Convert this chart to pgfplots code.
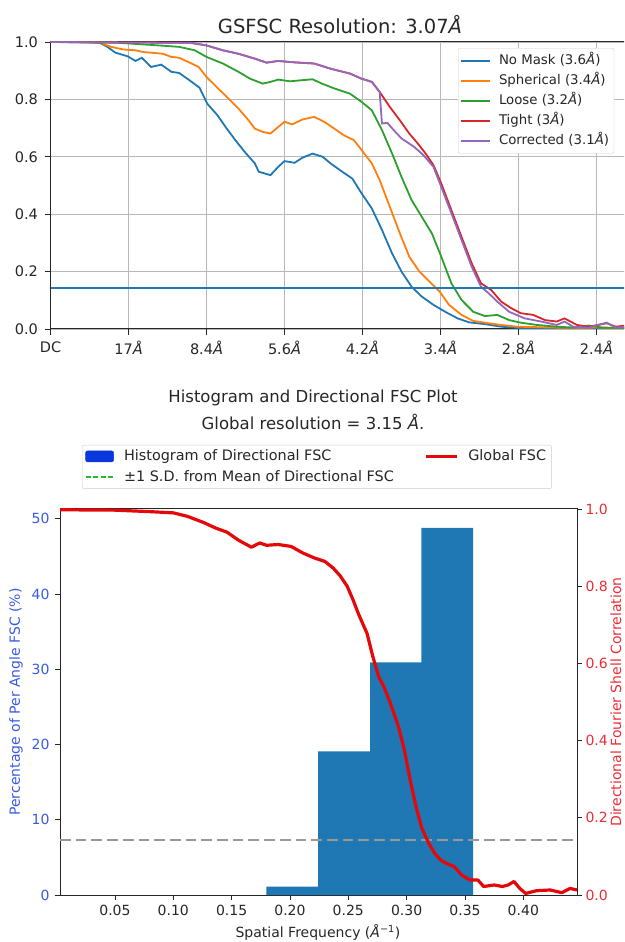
\documentclass[border=0pt]{standalone}
\usepackage{pgfplots}
\pgfplotsset{compat=1.18}
\usepackage{fontspec}
\setmainfont{DejaVu Sans}
\definecolor{tabblue}{HTML}{1F77B4}
\definecolor{taborange}{HTML}{FF7F0E}
\definecolor{tabgreen}{HTML}{2CA02C}
\definecolor{tabred}{HTML}{D62728}
\definecolor{tabpurple}{HTML}{9467BD}
\definecolor{lblue}{RGB}{55,90,230}
\definecolor{legblue}{RGB}{10,55,220}
\definecolor{fscred}{RGB}{228,8,10}
\definecolor{rlab}{RGB}{235,45,55}
\definecolor{sdgreen}{RGB}{40,185,40}
\newcommand{\AAi}{{\itshape Å}}
\pgfplotsset{
  fmt1/.style={/pgf/number format/fixed, /pgf/number format/fixed zerofill, /pgf/number format/precision=1, /pgf/number format/assume math mode=true},
  fmt2/.style={/pgf/number format/fixed, /pgf/number format/fixed zerofill, /pgf/number format/precision=2, /pgf/number format/assume math mode=true},
  patchleg/.style={legend image code/.code={\fill[##1] (0pt,-5.5pt) rectangle (28pt,5.5pt);}},
  lineleg/.style={legend image code/.code={\draw[##1] (0pt,0pt) -- (#1,0pt);}},
}
\begin{document}
\begin{tikzpicture}
\useasboundingbox (0pt,0pt) rectangle (624pt,942pt);
\clip (0pt,0pt) rectangle (624pt,942pt);

% ---------- top chart ----------
\node[font=\fontsize{19.5}{22}\selectfont, text=black!85] at (340pt,917pt) {GSFSC Resolution: 3.07\AAi};
\begin{axis}[
  at={(50.5pt,613pt)}, anchor=south west, scale only axis,
  width=579.5pt, height=287pt,
  xmin=0, xmax=7.43, ymin=0, ymax=1,
  xtick={0,1,2,3,4,5,6,7},
  xticklabels={DC,17\AAi,8.4\AAi,5.6\AAi,4.2\AAi,3.4\AAi,2.8\AAi,2.4\AAi},
  ytick={0,0.2,0.4,0.6,0.8,1.0},
  yticklabel style={fmt1, xshift=-3pt},
  xticklabel style={yshift=-3pt},
  ticklabel style={font=\fontsize{14.5}{16}\selectfont, text=black!85},
  grid=major, grid style={color=black!28, line width=0.8pt},
  tick align=outside, xtick pos=left, ytick pos=left,
  major tick length=6pt, tick style={black!85, line width=0.9pt},
  axis line style={line width=1pt, black!85},
  legend cell align=left,
  legend style={at={(axis description cs:0.7032,0.979)}, anchor=north west,
    draw=black!20, rounded corners=2pt, fill=white,
    font=\fontsize{13.3}{15}\selectfont, text=black!85,
    inner xsep=2pt, inner ysep=5pt,
    nodes={inner xsep=3pt, inner ysep=1pt, text height=10pt, text depth=3pt},
    row sep=5pt,
    /tikz/every odd column/.append style={column sep=5pt}},
  legend image code/.code={\draw[#1] (0pt,0pt) -- (29pt,0pt);},
]
\addplot[tabblue, line width=1.8pt] coordinates {(0,1.0) (0.4,1.0) (0.63,0.997) (0.73,0.983) (0.83,0.963) (0.99,0.95) (1.09,0.934) (1.17,0.945) (1.29,0.913) (1.42,0.921) (1.55,0.896) (1.65,0.892) (1.78,0.867) (1.91,0.841) (2.01,0.785) (2.14,0.745) (2.26,0.698) (2.37,0.658) (2.49,0.617) (2.62,0.577) (2.67,0.548) (2.82,0.536) (2.92,0.565) (3.0,0.585) (3.13,0.579) (3.23,0.597) (3.36,0.611) (3.49,0.6) (3.59,0.577) (3.74,0.548) (3.87,0.524) (3.99,0.472) (4.12,0.42) (4.25,0.345) (4.38,0.263) (4.50,0.2) (4.63,0.147) (4.76,0.113) (4.91,0.084) (5.06,0.06) (5.22,0.037) (5.37,0.023) (5.57,0.017) (5.78,0.008) (5.98,0.004) (6.2,0.002) (6.5,0.004) (6.8,0.001) (7.1,0.003) (7.43,0.002)};
\addlegendentry{No Mask (3.6\AAi)}
\addplot[taborange, line width=1.8pt] coordinates {(0,1) (0.5,1.0) (0.63,0.997) (0.78,0.983) (0.93,0.974) (1.09,0.971) (1.19,0.965) (1.32,0.962) (1.44,0.959) (1.55,0.948) (1.65,0.945) (1.77,0.93) (1.90,0.913) (2.00,0.878) (2.13,0.843) (2.26,0.809) (2.41,0.768) (2.54,0.727) (2.62,0.698) (2.72,0.687) (2.82,0.681) (2.92,0.704) (3.0,0.722) (3.10,0.713) (3.23,0.73) (3.38,0.739) (3.51,0.722) (3.64,0.698) (3.76,0.675) (3.89,0.658) (3.99,0.623) (4.12,0.577) (4.22,0.519) (4.35,0.426) (4.48,0.333) (4.60,0.252) (4.73,0.2) (4.86,0.165) (4.99,0.13) (5.11,0.084) (5.27,0.049) (5.42,0.028) (5.62,0.02) (5.78,0.014) (5.98,0.008) (6.3,0.006) (6.6,0.004) (7.0,0.005) (7.43,0.004)};
\addlegendentry{Spherical (3.4\AAi)}
\addplot[tabgreen, line width=1.8pt] coordinates {(0,1) (0.88,0.997) (1.39,0.988) (1.65,0.983) (1.85,0.971) (2.0,0.948) (2.21,0.925) (2.41,0.896) (2.56,0.872) (2.72,0.855) (2.82,0.861) (2.92,0.869) (3.07,0.863) (3.23,0.867) (3.36,0.87) (3.48,0.855) (3.64,0.838) (3.84,0.82) (3.99,0.791) (4.12,0.762) (4.25,0.693) (4.38,0.611) (4.50,0.53) (4.63,0.449) (4.76,0.391) (4.89,0.333) (5.01,0.252) (5.14,0.159) (5.27,0.101) (5.42,0.06) (5.57,0.045) (5.73,0.049) (5.88,0.031) (6.03,0.022) (6.24,0.014) (6.49,0.008) (6.7,0.005) (6.9,0.012) (7.1,0.004) (7.43,0.005)};
\addlegendentry{Loose (3.2\AAi)}
\addplot[tabred, line width=1.8pt] coordinates {(0,1) (1.80,0.997) (2.0,0.988) (2.21,0.971) (2.41,0.959) (2.62,0.942) (2.77,0.928) (2.92,0.934) (3.13,0.929) (3.38,0.925) (3.59,0.907) (3.84,0.89) (3.99,0.872) (4.12,0.861) (4.22,0.826) (4.35,0.774) (4.48,0.727) (4.60,0.681) (4.71,0.646) (4.81,0.611) (4.91,0.571) (5.01,0.507) (5.14,0.414) (5.27,0.321) (5.40,0.229) (5.52,0.159) (5.65,0.136) (5.78,0.095) (5.91,0.072) (6.03,0.055) (6.19,0.049) (6.34,0.031) (6.49,0.026) (6.59,0.037) (6.75,0.014) (6.9,0.008) (7.13,0.02) (7.25,0.008) (7.43,0.014)};
\addlegendentry{Tight (3\AAi)}
\addplot[tabpurple, line width=1.8pt] coordinates {(0,1) (1.80,0.997) (2.0,0.988) (2.21,0.971) (2.41,0.959) (2.62,0.942) (2.77,0.928) (2.92,0.934) (3.13,0.929) (3.38,0.925) (3.59,0.907) (3.84,0.89) (3.99,0.872) (4.12,0.861) (4.22,0.826) (4.25,0.716) (4.32,0.718) (4.40,0.693) (4.50,0.664) (4.66,0.635) (4.78,0.606) (4.91,0.565) (5.01,0.495) (5.14,0.403) (5.27,0.31) (5.40,0.217) (5.52,0.147) (5.62,0.124) (5.73,0.095) (5.88,0.06) (6.08,0.037) (6.29,0.026) (6.49,0.014) (6.59,0.026) (6.70,0.008) (6.9,0.005) (7.13,0.022) (7.25,0.005) (7.43,0.008)};
\addlegendentry{Corrected (3.1\AAi)}
\addplot[tabblue, line width=1.8pt, forget plot] coordinates {(0,0.143) (7.43,0.143)};
\end{axis}

% ---------- bottom chart ----------
\node[font=\fontsize{16.5}{19}\selectfont, text=black!85] at (313pt,544pt) {Histogram and Directional FSC Plot};
\node[font=\fontsize{16.5}{19}\selectfont, text=black!85] at (313pt,520pt) {Global resolution = 3.15 \AAi.};
\begin{axis}[
  at={(60pt,47pt)}, anchor=south west, scale only axis,
  width=517pt, height=386pt,
  xmin=0.0029, xmax=0.446, ymin=0, ymax=51.3,
  xtick={0.05,0.1,0.15,0.2,0.25,0.3,0.35,0.4},
  scaled x ticks=false,
  ytick={0,10,20,30,40,50},
  ticklabel style={font=\fontsize{14}{16}\selectfont},
  xticklabel style={text=black!85, fmt2, yshift=-2pt},
  yticklabel style={text=lblue, /pgf/number format/assume math mode=true, xshift=-2pt},
  tick align=outside, xtick pos=left, ytick pos=left,
  major tick length=5pt, tick style={black!85, line width=0.9pt},
  axis line style={line width=1pt, black!85},
  ylabel={Percentage of Per Angle FSC (\%)},
  ylabel style={font=\fontsize{14}{16}\selectfont, text=lblue, at={(axis description cs:-0.085,0.5)}, anchor=center},
  xlabel={Spatial Frequency (\AAi\textsuperscript{−1})},
  xlabel style={font=\fontsize{14}{16}\selectfont, text=black!85, at={(axis description cs:0.499,-0.098)}, anchor=center},
  legend columns=2,
  legend cell align=left,
  legend style={at={(axis description cs:0.0426,1.166)}, anchor=north west,
    draw=black!20, rounded corners=2pt, fill=white,
    font=\fontsize{14.4}{17}\selectfont, text=black!85,
    inner xsep=2.5pt, inner ysep=3pt,
    nodes={inner xsep=3pt, inner ysep=1pt, text height=11pt, text depth=3.5pt},
    row sep=4.5pt,
    /tikz/every odd column/.append style={column sep=6.5pt},
    /tikz/every even column/.append style={column sep=28pt}},
]
\addplot[ybar interval, fill=tabblue, draw=none, forget plot] coordinates {(0.1797,1.1) (0.2242,19.1) (0.2687,30.9) (0.3127,48.8) (0.3570,0)};
\addlegendimage{legblue, patchleg}
\addlegendentry{Histogram of Directional FSC}
\addlegendimage{fscred, line width=3pt, lineleg=31pt}
\addlegendentry{Global FSC}
\addlegendimage{sdgreen, line width=1.8pt, dash pattern=on 5pt off 2.6pt, lineleg=28pt}
\addlegendentry{±1 S.D. from Mean of Directional FSC}
\end{axis}
\begin{axis}[
  at={(60pt,47pt)}, anchor=south west, scale only axis,
  width=517pt, height=386pt,
  xmin=0.0029, xmax=0.446, ymin=0, ymax=1,
  axis x line=none, axis y line*=right, clip=false,
  ytick={0,0.2,0.4,0.6,0.8,1.0},
  yticklabel style={text=rlab, font=\fontsize{14}{16}\selectfont, fmt1},
  tick align=outside,
  major tick length=5pt, tick style={black!85, line width=0.9pt},
  axis line style={line width=1pt, black!85},
  ylabel={Directional Fourier Shell Correlation},
  ylabel style={font=\fontsize{14}{16}\selectfont, text=rlab, at={(axis description cs:1.075,0.5)}, anchor=center},
]
\addplot[black!40, line width=1.8pt, dash pattern=on 10.7pt off 5pt] coordinates {(0.0029,0.143) (0.446,0.143)};
\addplot[fscred, line width=3.2pt, line join=round] coordinates {(0.003,0.998) (0.05,0.997) (0.081,0.993) (0.10,0.99) (0.112,0.981) (0.126,0.965) (0.136,0.951) (0.146,0.94) (0.156,0.919) (0.167,0.901) (0.174,0.912) (0.18,0.906) (0.19,0.908) (0.201,0.903) (0.211,0.886) (0.221,0.873) (0.23,0.864) (0.237,0.847) (0.243,0.827) (0.249,0.8) (0.254,0.765) (0.259,0.726) (0.266,0.678) (0.271,0.618) (0.276,0.566) (0.281,0.536) (0.286,0.497) (0.293,0.436) (0.298,0.376) (0.303,0.298) (0.308,0.229) (0.313,0.173) (0.319,0.134) (0.324,0.108) (0.329,0.091) (0.334,0.082) (0.341,0.073) (0.347,0.052) (0.354,0.039) (0.361,0.039) (0.366,0.022) (0.375,0.026) (0.382,0.022) (0.387,0.026) (0.392,0.035) (0.397,0.017) (0.402,0.004) (0.411,0.011) (0.423,0.013) (0.433,0.006) (0.44,0.017) (0.446,0.013)};
\end{axis}
\end{tikzpicture}
\end{document}
